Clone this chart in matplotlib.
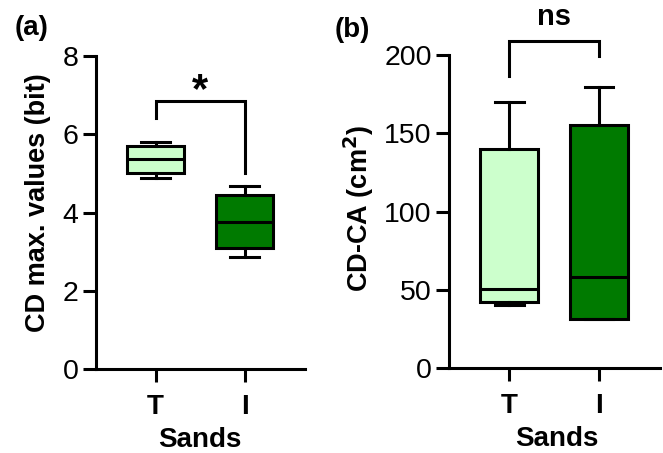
import matplotlib
matplotlib.use("Agg")
import matplotlib.pyplot as plt

plt.rcParams['font.family'] = ['Liberation Sans', 'DejaVu Sans']

categories = ["T", "I"]
colors = ["#CCFFCC", "#007A00"]

# Panel (a): CD max. values (bit)
a_whislo = [4.89, 2.86]
a_q1 = [5.00, 3.08]
a_med = [5.37, 3.76]
a_q3 = [5.71, 4.45]
a_whishi = [5.81, 4.69]
a_bracket = [6.41, 6.84, 5.00]   # left leg bottom, top, right leg bottom
a_sig = "*"

# Panel (b): CD-CA (cm2)
b_whislo = [40.4, 31.3]
b_q1 = [42.1, 31.3]
b_med = [50.4, 58.1]
b_q3 = [140.0, 155.2]
b_whishi = [170.2, 179.8]
b_bracket = [186.7, 209.0, 199.5]
b_sig = "ns"

LW = 2.2
FS_TICK = 20.5
FS_CAT = 20
FS_YLAB = 19.5
FS_XLAB = 20

fig = plt.figure(figsize=(6.63, 4.53), dpi=100)
axa = fig.add_axes([96/663, 1-369/453, 209/663, 313/453])
axb = fig.add_axes([449/663, 1-368.3/453, 211/663, 313.3/453])


def draw(ax, whislo, q1, med, q3, whishi, ylim, yticks, ylabel):
    stats = []
    for i, c in enumerate(categories):
        stats.append(dict(label=c, whislo=whislo[i], q1=q1[i], med=med[i],
                          q3=q3[i], whishi=whishi[i], fliers=[]))
    bp = ax.bxp(stats, positions=[0, 1], widths=0.65, capwidths=0.32,
                patch_artist=True, showfliers=False,
                boxprops=dict(linewidth=LW, edgecolor='black'),
                medianprops=dict(linewidth=LW, color='black'),
                whiskerprops=dict(linewidth=LW, color='black'),
                capprops=dict(linewidth=LW, color='black'))
    for patch, col in zip(bp['boxes'], colors):
        patch.set_facecolor(col)
    ax.set_ylim(*ylim)
    ax.set_xlim(-0.67, 1.68)
    ax.set_yticks(yticks)
    ax.set_xticks([0, 1])
    ax.set_xticklabels(categories, fontweight='bold', fontsize=FS_CAT)
    ax.spines['top'].set_visible(False)
    ax.spines['right'].set_visible(False)
    for s in ['left', 'bottom']:
        ax.spines[s].set_linewidth(LW)
    ax.tick_params(axis='both', width=LW, length=9.5)
    ax.tick_params(axis='y', labelsize=FS_TICK, pad=3)
    ax.tick_params(axis='x', pad=8.5)
    ax.set_ylabel(ylabel, fontweight='bold', fontsize=FS_YLAB)
    ax.set_xlabel("Sands", fontweight='bold', fontsize=FS_XLAB)


draw(axa, a_whislo, a_q1, a_med, a_q3, a_whishi, (0, 8), [0, 2, 4, 6, 8],
     "CD max. values (bit)")
draw(axb, b_whislo, b_q1, b_med, b_q3, b_whishi, (0, 200), [0, 50, 100, 150, 200],
     "CD-CA (cm$^\\mathbf{2}$)")

# brackets
axa.plot([0, 0, 1, 1], [a_bracket[0], a_bracket[1], a_bracket[1], a_bracket[2]],
         color='black', lw=LW, clip_on=False, solid_joinstyle='miter')
axa.text(0.5, 7.1, a_sig, ha='center', va='center', fontsize=30, fontweight='bold')
axb.plot([0, 0, 1, 1], [b_bracket[0], b_bracket[1], b_bracket[1], b_bracket[2]],
         color='black', lw=LW, clip_on=False, solid_joinstyle='miter')
axb.text(0.5, 224, b_sig, ha='center', va='center', fontsize=21, fontweight='bold',
         clip_on=False)

axa.yaxis.set_label_coords(-0.215, 0.53)
axb.yaxis.set_label_coords(-0.345, 0.51)
axa.xaxis.set_label_coords(0.497, -0.185)
axb.xaxis.set_label_coords(0.51, -0.185)

fig.text(15/663, 1-28/453, "(a)", fontsize=20, fontweight='bold', va='center', ha='left')
fig.text(335/663, 1-30/453, "(b)", fontsize=20, fontweight='bold', va='center', ha='left')

fig.savefig("out.png", dpi=100)
